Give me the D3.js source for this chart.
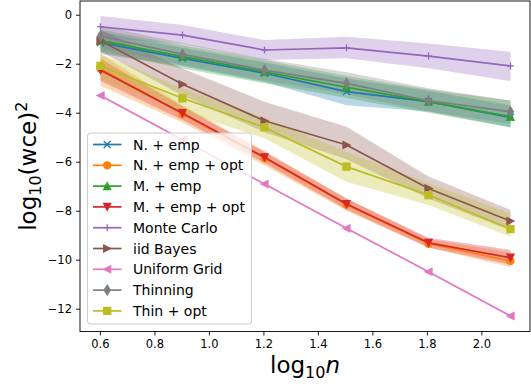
<!DOCTYPE html>
<html>
<head>
<meta charset="utf-8">
<script src="https://cdn.jsdelivr.net/npm/d3@7"></script>
<style>
  body { margin: 0; background: #fff; }
  svg { font-family: "DejaVu Sans", sans-serif; }
</style>
</head>
<body>
<div id="chart"></div>
<script>
// x values: log10 of n = 4 ... 128
const logN = [0.602, 0.903, 1.204, 1.505, 1.806, 2.107];

const xTicks = [0.6, 0.8, 1.0, 1.2, 1.4, 1.6, 1.8, 2.0];
const yTicks = [0, -2, -4, -6, -8, -10, -12];

const seriesNames = ["N. + emp", "N. + emp + opt", "M. + emp", "M. + emp + opt",
  "Monte Carlo", "iid Bayes", "Uniform Grid", "Thinning", "Thin + opt"];

// mean and shaded band (lower / upper) for each method
const nEmp     = [-1.14, -1.78, -2.39, -3.14, -3.55, -4.19];
const nEmpLo   = [-1.60, -2.10, -2.75, -3.70, -3.95, -4.60];
const nEmpHi   = [-0.70, -1.35, -1.95, -2.60, -3.10, -3.70];

const nEmpOpt   = [-2.20, -4.05, -5.85, -7.75, -9.35, -10.05];
const nEmpOptLo = [-2.90, -4.40, -6.15, -8.00, -9.50, -10.30];
const nEmpOptHi = [-1.60, -3.70, -5.55, -7.50, -9.15, -9.70];

const mEmp     = [-1.06, -1.71, -2.33, -2.96, -3.55, -4.16];
const mEmpLo   = [-1.50, -2.20, -2.80, -3.40, -4.00, -4.60];
const mEmpHi   = [-0.60, -1.25, -1.85, -2.50, -3.05, -3.50];

const mEmpOpt   = [-2.26, -4.02, -5.82, -7.73, -9.31, -9.92];
const mEmpOptLo = [-2.70, -4.30, -6.05, -7.95, -9.50, -10.20];
const mEmpOptHi = [-1.80, -3.75, -5.60, -7.50, -9.10, -9.60];

const monteCarlo   = [-0.49, -0.83, -1.44, -1.35, -1.69, -2.09];
const monteCarloLo = [-0.95, -1.20, -1.85, -1.78, -2.19, -2.71];
const monteCarloHi = [-0.05, -0.42, -1.03, -0.90, -1.17, -1.51];

const iidBayes   = [-1.06, -2.84, -4.33, -5.32, -7.09, -8.42];
const iidBayesLo = [-1.50, -3.30, -4.80, -5.90, -7.50, -8.80];
const iidBayesHi = [-0.60, -2.20, -3.55, -4.57, -6.60, -7.97];

const uniformGrid = [-3.30, -5.10, -6.91, -8.72, -10.49, -12.30];

const thinning   = [-0.87, -1.62, -2.26, -2.80, -3.51, -3.96];
const thinningLo = [-1.35, -2.05, -2.70, -3.25, -3.95, -4.45];
const thinningHi = [-0.45, -1.15, -1.80, -2.35, -3.00, -3.50];

const thinOpt   = [-2.09, -3.41, -4.60, -6.20, -7.36, -8.75];
const thinOptLo = [-2.60, -3.96, -5.04, -6.82, -7.77, -9.06];
const thinOptHi = [-1.60, -3.00, -4.23, -5.59, -6.88, -8.10];

const colors = ["#1f77b4", "#ff7f0e", "#2ca02c", "#d62728", "#9467bd",
  "#8c564b", "#e377c2", "#7f7f7f", "#bcbd22"];
const markers = ["x", "o", "^", "v", "+", ">", "<", "d", "s"];

const series = [
  [nEmp, nEmpLo, nEmpHi],
  [nEmpOpt, nEmpOptLo, nEmpOptHi],
  [mEmp, mEmpLo, mEmpHi],
  [mEmpOpt, mEmpOptLo, mEmpOptHi],
  [monteCarlo, monteCarloLo, monteCarloHi],
  [iidBayes, iidBayesLo, iidBayesHi],
  [uniformGrid, uniformGrid, uniformGrid],
  [thinning, thinningLo, thinningHi],
  [thinOpt, thinOptLo, thinOptHi]
].map((s, i) => ({
  name: seriesNames[i], color: colors[i], marker: markers[i],
  pts: logN.map((x, j) => ({ x: x, y: s[0][j], lo: s[1][j], hi: s[2][j] }))
}));

const width = 531, height = 389;
const axLeft = 80, axRight = 530, axTop = 1, axBottom = 331.5;

const svg = d3.select("#chart").append("svg")
  .attr("width", width).attr("height", height);

const x = d3.scaleLinear().domain([0.5268, 2.1823]).range([axLeft, axRight + 1]);
const y = d3.scaleLinear().domain([0.56, -12.93]).range([axTop, axBottom]);

svg.append("clipPath").attr("id", "clip")
  .append("rect").attr("x", axLeft).attr("y", axTop)
  .attr("width", axRight - axLeft).attr("height", axBottom - axTop);

const plot = svg.append("g").attr("clip-path", "url(#clip)");

// bands first (matplotlib puts fills below lines)
const area = d3.area().x(d => x(d.x)).y0(d => y(d.lo)).y1(d => y(d.hi));
series.forEach(s => {
  plot.append("path").attr("d", area(s.pts))
    .attr("fill", s.color).attr("fill-opacity", 0.3);
});

const ms = 7;
function drawMarker(g, type, cx, cy, color) {
  const h = ms / 2;
  const filled = (d) => g.append("path").attr("d", d)
    .attr("fill", color).attr("stroke", color).attr("stroke-width", 1.3)
    .attr("stroke-linejoin", "miter");
  if (type === "x") {
    g.append("path").attr("d", `M${cx-h},${cy-h}L${cx+h},${cy+h}M${cx-h},${cy+h}L${cx+h},${cy-h}`)
      .attr("stroke", color).attr("stroke-width", 1.3).attr("fill", "none");
  } else if (type === "+") {
    g.append("path").attr("d", `M${cx-h},${cy}L${cx+h},${cy}M${cx},${cy-h}L${cx},${cy+h}`)
      .attr("stroke", color).attr("stroke-width", 1.3).attr("fill", "none");
  } else if (type === "o") {
    g.append("circle").attr("cx", cx).attr("cy", cy).attr("r", h)
      .attr("fill", color).attr("stroke", color).attr("stroke-width", 1.3);
  } else if (type === "^") {
    filled(`M${cx},${cy-h}L${cx-h},${cy+h}L${cx+h},${cy+h}Z`);
  } else if (type === "v") {
    filled(`M${cx},${cy+h}L${cx-h},${cy-h}L${cx+h},${cy-h}Z`);
  } else if (type === ">") {
    filled(`M${cx+h},${cy}L${cx-h},${cy-h}L${cx-h},${cy+h}Z`);
  } else if (type === "<") {
    filled(`M${cx-h},${cy}L${cx+h},${cy-h}L${cx+h},${cy+h}Z`);
  } else if (type === "d") {
    const dy = ms * 0.707, dx = dy * 0.6;
    filled(`M${cx},${cy-dy}L${cx+dx},${cy}L${cx},${cy+dy}L${cx-dx},${cy}Z`);
  } else if (type === "s") {
    filled(`M${cx-h},${cy-h}H${cx+h}V${cy+h}H${cx-h}Z`);
  }
}

const line = d3.line().x(d => x(d.x)).y(d => y(d.y));
series.forEach(s => {
  const g = plot.append("g");
  g.append("path").attr("d", line(s.pts))
    .attr("fill", "none").attr("stroke", s.color).attr("stroke-width", 1.7)
    .attr("stroke-linejoin", "round").attr("stroke-linecap", "square");
  s.pts.forEach(p => drawMarker(g, s.marker, x(p.x), y(p.y), s.color));
});

// axes
const xAxis = d3.axisBottom(x).tickValues(xTicks).tickSize(4).tickPadding(4)
  .tickFormat(d3.format(".1f"));
const yAxis = d3.axisLeft(y).tickValues(yTicks).tickSize(4).tickPadding(4)
  .tickFormat(d => d === 0 ? "0" : "\u2212" + Math.abs(d));

const gx = svg.append("g").attr("transform", `translate(0,${axBottom})`).call(xAxis);
const gy = svg.append("g").attr("transform", `translate(${axLeft},0)`).call(yAxis);
[gx, gy].forEach(g => {
  g.select(".domain").remove();
  g.selectAll("line").attr("stroke", "#000").attr("stroke-width", 0.9);
  g.selectAll("text").attr("fill", "#000").style("font-size", "11.5px")
    .style("font-family", "DejaVu Sans");
});

svg.append("rect").attr("x", axLeft).attr("y", axTop)
  .attr("width", axRight - axLeft).attr("height", axBottom - axTop)
  .attr("fill", "none").attr("stroke", "#000").attr("stroke-width", 0.9);

// axis labels
const xl = svg.append("text").attr("x", 305).attr("y", 373)
  .attr("text-anchor", "middle").style("font-size", "23px");
xl.append("tspan").text("log");
xl.append("tspan").attr("dy", 5).style("font-size", "16px").text("10");
xl.append("tspan").attr("dy", -5).style("font-style", "italic").text("n");

const yl = svg.append("text")
  .attr("transform", `translate(36,${(axTop + axBottom) / 2}) rotate(-90)`)
  .attr("text-anchor", "middle").style("font-size", "23px");
yl.append("tspan").text("log");
yl.append("tspan").attr("dy", 5).style("font-size", "16px").text("10");
yl.append("tspan").attr("dy", -5).text("(wce)");
yl.append("tspan").attr("dy", -9).style("font-size", "16px").text("2");

// legend
const leg = svg.append("g");
leg.append("rect").attr("x", 87.5).attr("y", 133).attr("width", 164).attr("height", 191)
  .attr("rx", 3).attr("fill", "#fff").attr("fill-opacity", 0.8)
  .attr("stroke", "#cccccc").attr("stroke-width", 1);
series.forEach((s, i) => {
  const cy = 144.5 + i * 20.8;
  const g = leg.append("g");
  g.append("line").attr("x1", 93).attr("x2", 121.5).attr("y1", cy).attr("y2", cy)
    .attr("stroke", s.color).attr("stroke-width", 1.7);
  drawMarker(g, s.marker, 107.2, cy, s.color);
  g.append("text").attr("x", 133).attr("y", cy).attr("dy", "0.36em")
    .style("font-size", "14px").attr("fill", "#000").text(s.name);
});
</script>
</body>
</html>
